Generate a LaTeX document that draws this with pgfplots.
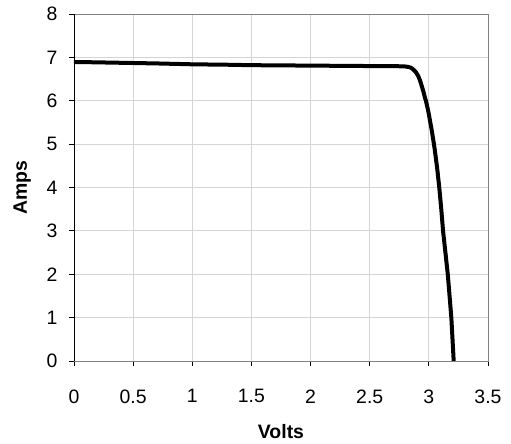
\documentclass[border=0pt]{standalone}
\usepackage{pgfplots}
\pgfplotsset{compat=1.18}
\usepackage{fontspec}
\setmainfont{Liberation Sans}
\begin{document}
\begin{tikzpicture}
\begin{axis}[
  name=ax,
  scale only axis,
  width=414bp, height=347bp,
  xmin=0, xmax=3.5, ymin=0, ymax=8,
  xtick={0,0.5,...,3.5}, ytick={0,1,...,8},
  xticklabels={0,0.5,1,1.5,2,2.5,3,3.5},
  grid=major,
  grid style={draw=black!17, line width=0.9bp},
  axis line style={draw=black!50, line width=0.9bp},
  tick align=outside,
  xtick pos=left, ytick pos=left,
  major tick length=5bp,
  tick style={black, line width=0.9bp},
  ticklabel style={font=\fontsize{19.5}{22}\selectfont},
  /pgf/number format/assume math mode=true,
  xlabel={\textbf{Volts}}, ylabel={\textbf{Amps}},
  label style={font=\fontsize{19.5}{22}\selectfont},
  xlabel style={yshift=-14bp},
  ylabel style={yshift=9bp},
  xticklabel style={yshift=-20bp},
  yticklabel style={xshift=-8bp},
]
\addplot[black, line width=4bp, line join=round] coordinates {
(0,6.89) (0.1,6.89) (0.3,6.88) (0.5,6.87) (0.7,6.86) (1.0,6.84) (1.3,6.83)
(1.5,6.82) (2.0,6.81) (2.5,6.80) (2.7,6.80) (2.80,6.79) (2.826,6.78)
(2.85,6.76) (2.868,6.72) (2.89,6.66) (2.91,6.57) (2.925,6.47) (2.94,6.34)
(2.955,6.20) (2.967,6.07) (2.975,6.0) (2.995,5.76) (3.023,5.34) (3.043,5.0)
(3.05,4.87) (3.07,4.45) (3.088,4.0) (3.105,3.5) (3.12,3.0) (3.14,2.5)
(3.16,2.0) (3.175,1.5) (3.19,1.0) (3.20,0.5) (3.21,0)
};
\draw[black, line width=0.9bp] (rel axis cs:0,1) -- (rel axis cs:0,0) -- (rel axis cs:1,0);
\end{axis}
\path (ax.south west) ++(-74bp,-83bp) (ax.north east) ++(23bp,14bp);
\end{tikzpicture}
\end{document}
